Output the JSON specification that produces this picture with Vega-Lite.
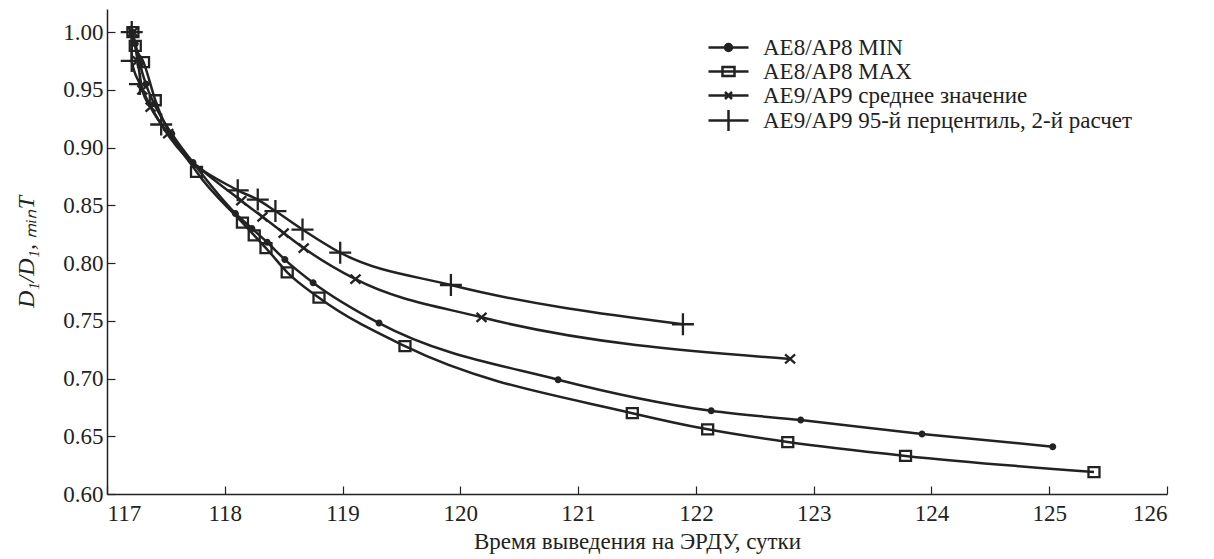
{
  "$schema": "https://vega.github.io/schema/vega-lite/v6.json",
  "width": 1060,
  "height": 485,
  "autosize": {"type": "none"},
  "padding": {"left": 107, "top": 9, "right": 47, "bottom": 65},
  "background": "white",
  "config": {
    "font": "Times New Roman, Liberation Serif, serif",
    "view": {"stroke": null},
    "axis": {
      "grid": false,
      "domainColor": "#222",
      "domainWidth": 1.5,
      "tickColor": "#222",
      "tickWidth": 1.2,
      "labelFont": "Times New Roman, Liberation Serif, serif",
      "labelFontSize": 23,
      "labelColor": "#222",
      "titleFont": "Times New Roman, Liberation Serif, serif",
      "titleColor": "#222",
      "titleFontWeight": "normal"
    },
    "legend": {
      "labelFont": "Times New Roman, Liberation Serif, serif"
    }
  },
  "data": {
    "values": [
      {"series": "AE8/AP8 MIN", "t": 117.21, "d": 1.000},
      {"series": "AE8/AP8 MIN", "t": 117.24, "d": 0.990},
      {"series": "AE8/AP8 MIN", "t": 117.28, "d": 0.972},
      {"series": "AE8/AP8 MIN", "t": 117.33, "d": 0.955},
      {"series": "AE8/AP8 MIN", "t": 117.40, "d": 0.938},
      {"series": "AE8/AP8 MIN", "t": 117.55, "d": 0.912},
      {"series": "AE8/AP8 MIN", "t": 117.73, "d": 0.887},
      {"series": "AE8/AP8 MIN", "t": 118.09, "d": 0.843},
      {"series": "AE8/AP8 MIN", "t": 118.23, "d": 0.830},
      {"series": "AE8/AP8 MIN", "t": 118.36, "d": 0.818},
      {"series": "AE8/AP8 MIN", "t": 118.51, "d": 0.803},
      {"series": "AE8/AP8 MIN", "t": 118.75, "d": 0.783},
      {"series": "AE8/AP8 MIN", "t": 119.31, "d": 0.748},
      {"series": "AE8/AP8 MIN", "t": 120.83, "d": 0.699},
      {"series": "AE8/AP8 MIN", "t": 122.13, "d": 0.672},
      {"series": "AE8/AP8 MIN", "t": 122.89, "d": 0.664},
      {"series": "AE8/AP8 MIN", "t": 123.92, "d": 0.652},
      {"series": "AE8/AP8 MIN", "t": 125.03, "d": 0.641},
      {"series": "AE8/AP8 MAX", "t": 117.22, "d": 1.000},
      {"series": "AE8/AP8 MAX", "t": 117.24, "d": 0.988},
      {"series": "AE8/AP8 MAX", "t": 117.31, "d": 0.974},
      {"series": "AE8/AP8 MAX", "t": 117.41, "d": 0.941},
      {"series": "AE8/AP8 MAX", "t": 117.76, "d": 0.879},
      {"series": "AE8/AP8 MAX", "t": 118.15, "d": 0.835},
      {"series": "AE8/AP8 MAX", "t": 118.25, "d": 0.824},
      {"series": "AE8/AP8 MAX", "t": 118.35, "d": 0.813},
      {"series": "AE8/AP8 MAX", "t": 118.53, "d": 0.792},
      {"series": "AE8/AP8 MAX", "t": 118.80, "d": 0.770},
      {"series": "AE8/AP8 MAX", "t": 119.53, "d": 0.728},
      {"series": "AE8/AP8 MAX", "t": 121.46, "d": 0.670},
      {"series": "AE8/AP8 MAX", "t": 122.10, "d": 0.656},
      {"series": "AE8/AP8 MAX", "t": 122.78, "d": 0.645},
      {"series": "AE8/AP8 MAX", "t": 123.78, "d": 0.633},
      {"series": "AE8/AP8 MAX", "t": 125.38, "d": 0.619},
      {"series": "AE9/AP9 среднее значение", "t": 117.22, "d": 1.000},
      {"series": "AE9/AP9 среднее значение", "t": 117.26, "d": 0.975},
      {"series": "AE9/AP9 среднее значение", "t": 117.30, "d": 0.950},
      {"series": "AE9/AP9 среднее значение", "t": 117.37, "d": 0.935},
      {"series": "AE9/AP9 среднее значение", "t": 117.52, "d": 0.912},
      {"series": "AE9/AP9 среднее значение", "t": 118.14, "d": 0.854},
      {"series": "AE9/AP9 среднее значение", "t": 118.32, "d": 0.840},
      {"series": "AE9/AP9 среднее значение", "t": 118.50, "d": 0.826},
      {"series": "AE9/AP9 среднее значение", "t": 118.67, "d": 0.813},
      {"series": "AE9/AP9 среднее значение", "t": 119.11, "d": 0.786},
      {"series": "AE9/AP9 среднее значение", "t": 120.18, "d": 0.753},
      {"series": "AE9/AP9 среднее значение", "t": 122.80, "d": 0.717},
      {"series": "AE9/AP9 95-й перцентиль, 2-й расчет", "t": 117.21, "d": 1.000},
      {"series": "AE9/AP9 95-й перцентиль, 2-й расчет", "t": 117.21, "d": 0.975},
      {"series": "AE9/AP9 95-й перцентиль, 2-й расчет", "t": 117.28, "d": 0.955},
      {"series": "AE9/AP9 95-й перцентиль, 2-й расчет", "t": 117.46, "d": 0.920},
      {"series": "AE9/AP9 95-й перцентиль, 2-й расчет", "t": 118.11, "d": 0.863},
      {"series": "AE9/AP9 95-й перцентиль, 2-й расчет", "t": 118.28, "d": 0.855},
      {"series": "AE9/AP9 95-й перцентиль, 2-й расчет", "t": 118.43, "d": 0.845},
      {"series": "AE9/AP9 95-й перцентиль, 2-й расчет", "t": 118.66, "d": 0.829},
      {"series": "AE9/AP9 95-й перцентиль, 2-й расчет", "t": 118.98, "d": 0.809},
      {"series": "AE9/AP9 95-й перцентиль, 2-й расчет", "t": 119.92, "d": 0.781},
      {"series": "AE9/AP9 95-й перцентиль, 2-й расчет", "t": 121.89, "d": 0.747}
    ]
  },
  "encoding": {
    "x": {
      "field": "t",
      "type": "quantitative",
      "scale": {"domain": [117, 126], "nice": false, "zero": false},
      "axis": {
        "values": [117, 118, 119, 120, 121, 122, 123, 124, 125, 126],
        "format": "d",
        "tickSize": -8,
        "labelPadding": 16,
        "title": "Время выведения на ЭРДУ, сутки",
        "titleFontSize": 23,
        "titlePadding": 5
      }
    },
    "y": {
      "field": "d",
      "type": "quantitative",
      "scale": {"domain": [0.6, 1.02], "nice": false, "zero": false},
      "axis": {
        "values": [0.6, 0.65, 0.7, 0.75, 0.8, 0.85, 0.9, 0.95, 1.0],
        "format": ".2f",
        "tickSize": -8,
        "labelPadding": 12,
        "title": "D₁/D₁, ₘᵢₙT",
        "titleFontSize": 24,
        "titleFontStyle": "italic",
        "titlePadding": 24
      }
    }
  },
  "layer": [
    {
      "mark": {"type": "line", "strokeWidth": 2.5, "interpolate": "monotone"},
      "encoding": {
        "stroke": {
          "field": "series",
          "type": "nominal",
          "scale": {
            "domain": ["AE8/AP8 MIN", "AE8/AP8 MAX", "AE9/AP9 среднее значение", "AE9/AP9 95-й перцентиль, 2-й расчет"],
            "range": ["#222", "#222", "#222", "#222"]
          },
          "legend": {
            "title": null,
            "orient": "none",
            "legendX": 610,
            "legendY": 27,
            "symbolSize": 400,
            "symbolStrokeWidth": 2.5,
            "labelFont": "Times New Roman, Liberation Serif, serif",
            "labelFontSize": 23,
            "labelColor": "#222",
            "labelLimit": 450,
            "labelOffset": 23,
            "rowPadding": -3,
            "encode": {
              "symbols": {
                "update": {
                  "shape": {"signal": "datum.value === 'AE8/AP8 MIN' ? 'M-2,0H2M-0.35,0A0.35,0.35 0 1,0 0.35,0A0.35,0.35 0 1,0 -0.35,0Z' : datum.value === 'AE8/AP8 MAX' ? 'M-2,0H2M-0.6,-0.45H0.6V0.45H-0.6Z' : datum.value === 'AE9/AP9 среднее значение' ? 'M-2,0H2M-0.35,-0.35L0.35,0.35M-0.35,0.35L0.35,-0.35' : 'M-2,0H2M0,-1.05V1.05'"},
                  "fill": {"signal": "datum.value === 'AE8/AP8 MIN' ? '#222' : 'transparent'"},
                  "stroke": {"value": "#222"},
                  "strokeWidth": {"value": 2.5},
                  "opacity": {"value": 1}
                }
              }
            }
          }
        }
      }
    },
    {
      "transform": [{"filter": "datum.series === 'AE8/AP8 MIN'"}],
      "mark": {"type": "point", "filled": true, "size": 100, "color": "#222", "opacity": 1,
               "shape": "M-0.7,0A0.7,0.7 0 1,0 0.7,0A0.7,0.7 0 1,0 -0.7,0Z"}
    },
    {
      "transform": [{"filter": "datum.series === 'AE8/AP8 MAX'"}],
      "mark": {"type": "point", "filled": false, "size": 100, "stroke": "#222", "strokeWidth": 2.3, "opacity": 1,
               "shape": "M-1.1,-1H1.1V1H-1.1Z"}
    },
    {
      "transform": [{"filter": "datum.series === 'AE9/AP9 среднее значение'"}],
      "mark": {"type": "point", "filled": false, "size": 100, "stroke": "#222", "strokeWidth": 2.3, "opacity": 1,
               "shape": "M-1,-0.9L1,0.9M-1,0.9L1,-0.9"}
    },
    {
      "transform": [{"filter": "datum.series === 'AE9/AP9 95-й перцентиль, 2-й расчет'"}],
      "mark": {"type": "point", "filled": false, "size": 100, "stroke": "#222", "strokeWidth": 2.3, "opacity": 1,
               "shape": "M-2.2,0H2.2M0,-2.2V2.2"}
    }
  ]
}
